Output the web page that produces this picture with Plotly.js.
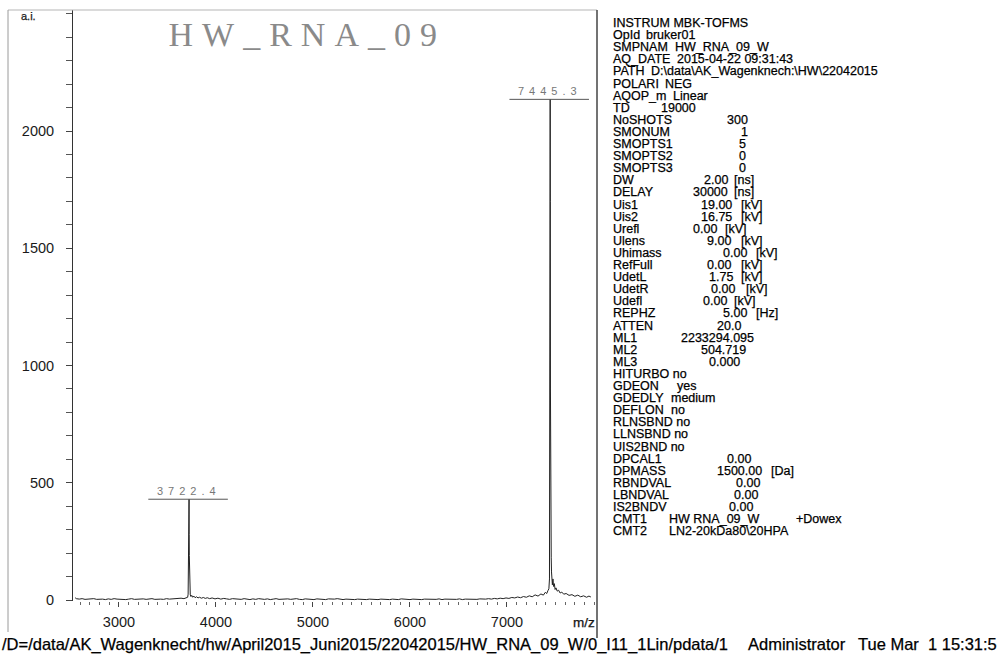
<!DOCTYPE html>
<html>
<head>
<meta charset="utf-8">
<script src="https://cdn.plot.ly/plotly-3.0.1.min.js"></script>
<style>
  html, body { margin: 0; padding: 0; background: #fff; }
  #chart { width: 997px; height: 655px; }
</style>
</head>
<body>
<div id="chart"></div>
<script>
// ---- spectrum (m/z vs intensity, a.i.) ----
const mz = [
  2548, 2560, 2590, 2620, 2650, 2680, 2710, 2740, 2770, 2800, 2830, 2860, 2890, 2920, 2950, 2980,
  3010, 3040, 3070, 3100, 3130, 3160, 3190, 3220, 3250, 3280, 3310, 3340, 3370, 3400, 3430, 3460,
  3490, 3520, 3550, 3580, 3610, 3640, 3670, 3695, 3708, 3713, 3716, 3718, 3720, 3721.3, 3722.4,
  3723.6, 3725, 3727, 3730, 3735, 3742, 3750, 3760, 3772, 3785, 3800, 3815, 3830, 3850, 3870, 3890,
  3910, 3935, 3960, 3990, 4020, 4050, 4080, 4110, 4140, 4170, 4200, 4230, 4260, 4290, 4320, 4350,
  4380, 4410, 4440, 4470, 4500, 4530, 4560, 4590, 4620, 4650, 4680, 4710, 4740, 4770, 4800, 4830,
  4860, 4890, 4920, 4950, 4980, 5010, 5040, 5070, 5100, 5130, 5160, 5190, 5220, 5250, 5280, 5310,
  5340, 5370, 5400, 5430, 5460, 5490, 5520, 5550, 5580, 5610, 5640, 5670, 5700, 5730, 5760, 5790,
  5820, 5850, 5880, 5910, 5940, 5970, 6000, 6030, 6060, 6090, 6120, 6150, 6180, 6210, 6240, 6270,
  6300, 6330, 6360, 6390, 6420, 6450, 6480, 6510, 6540, 6570, 6600, 6630, 6660, 6690, 6720, 6750,
  6780, 6810, 6840, 6870, 6900, 6930, 6960, 6990, 7020, 7050, 7080, 7110, 7140, 7170, 7200, 7230,
  7260, 7290, 7320, 7350, 7375, 7395, 7410, 7422, 7432, 7438, 7441, 7443, 7444.3, 7445.3, 7446.5,
  7448, 7450, 7452, 7454, 7456, 7459, 7463, 7468, 7474, 7480, 7488, 7496, 7505, 7518, 7532, 7548,
  7565, 7585, 7610, 7640, 7670, 7700, 7730, 7760, 7790, 7820, 7845, 7865
];
const intensity = [
  10, 6, 4, 6, 3, 5, 4, 6, 3, 5, 4, 2, 5, 3, 6, 4,
  3, 5, 2, 4, 6, 3, 4, 2, 5, 3, 4, 6, 3, 5, 4, 3,
  6, 4, 5, 7, 5, 8, 6, 9, 12, 25, 110, 290, 350, 300, 430,
  280, 190, 90, 40, 22, 15, 20, 12, 17, 10, 14, 9, 12, 8, 11, 7,
  10, 6, 9, 5, 8, 4, 7, 5, 3, 6, 4, 5, 3, 6, 4, 2,
  5, 3, 6, 4, 3, 5, 2, 4, 6, 3, 4, 2, 5, 3, 4, 6,
  3, 2, 5, 3, 4, 2, 5, 3, 4, 2, 5, 3, 4, 6, 3, 2,
  4, 3, 5, 2, 4, 3, 5, 2, 4, 3, 5, 2, 4, 3, 5, 2,
  4, 3, 2, 5, 3, 4, 2, 4, 3, 5, 2, 4, 3, 2, 4, 3,
  5, 2, 4, 3, 2, 4, 3, 5, 2, 4, 3, 2, 4, 3, 5, 3,
  4, 6, 4, 7, 5, 8, 6, 9, 7, 11, 9, 13, 10, 15, 12, 18,
  14, 22, 17, 26, 21, 33, 28, 40, 48, 90, 600, 1500, 1900, 2135, 1700,
  900, 330, 255, 230, 180, 120, 85, 65, 90, 58, 70, 45, 52, 38, 42, 30,
  34, 25, 28, 20, 23, 16, 21, 14, 18, 12, 17, 13
];

// labelled peaks
const peakMz = [3722.4, 7445.3];

// axis ticks
const xTicks = [3000, 4000, 5000, 6000, 7000];
const yTicks = [0, 500, 1000, 1500, 2000];

// acquisition parameters printed beside the spectrum
const infoKeys = [
  'INSTRUM MBK-TOFMS', 'OpId', 'SMPNAM', 'AQ_DATE', 'PATH', 'POLARI', 'AQOP_m', 'TD',
  'NoSHOTS', 'SMONUM', 'SMOPTS1', 'SMOPTS2', 'SMOPTS3', 'DW', 'DELAY', 'Uis1', 'Uis2',
  'Urefl', 'Ulens', 'Uhimass', 'RefFull', 'UdetL', 'UdetR', 'Udefl', 'REPHZ', 'ATTEN',
  'ML1', 'ML2', 'ML3', 'HITURBO no', 'GDEON', 'GDEDLY', 'DEFLON', 'RLNSBND no',
  'LLNSBND no', 'UIS2BND no', 'DPCAL1', 'DPMASS', 'RBNDVAL', 'LBNDVAL', 'IS2BNDV',
  'CMT1', 'CMT2'
];
const infoValues = [
  '', 'bruker01', 'HW_RNA_09_W', '2015-04-22 09:31:43', 'D:\\data\\AK_Wagenknech:\\HW\\22042015',
  'NEG', 'Linear', '19000', '300', '1', '5', '0', '0', '2.00', '30000', '19.00', '16.75',
  '0.00', '9.00', '0.00', '0.00', '1.75', '0.00', '0.00', '5.00', '20.0',
  '2233294.095', '504.719', '0.000', '', 'yes', 'medium', 'no', '',
  '', '', '0.00', '1500.00', '0.00', '0.00', '0.00',
  'HW RNA_09_W', 'LN2-20kDa80\\20HPA'
];
const infoUnits = [
  '', '', '', '', '', '', '', '', '', '', '', '', '', '[ns]', '[ns]', '[kV]', '[kV]',
  '[kV]', '[kV]', '[kV]', '[kV]', '[kV]', '[kV]', '[kV]', '[Hz]', '',
  '', '', '', '', '', '', '', '', '', '', '', '[Da]', '', '', '',
  '+Dowex', ''
];

const footerPath = '/D=/data/AK_Wagenknecht/hw/April2015_Juni2015/22042015/HW_RNA_09_W/0_I11_1Lin/pdata/1';
const footerUser = 'Administrator';
const footerDate = 'Tue Mar  1 15:31:5';

// ---- page geometry (pixels) ----
const W = 997, H = 655;
const L = 73, R = 597, T = 10, B = 601;
const px = v => (v - L) / (R - L);
const py = v => (B - v) / (B - T);

// column positions of the parameter block
const keyX = 612, blockTop = 15, lineStep = 12.1;
const valueX = [
  0, 645, 674, 676, 650, 664, 672, 660, 726, 740, 738, 738, 738, 703, 692, 700, 700,
  692, 706, 722, 706, 708, 710, 702, 722, 716, 680, 700, 708, 0, 676, 670, 670, 0,
  0, 0, 726, 716, 735, 733, 728, 668, 668
];
const unitX = [
  0, 0, 0, 0, 0, 0, 0, 0, 0, 0, 0, 0, 0, 733, 733, 740, 740,
  724, 740, 755, 740, 740, 745, 733, 755, 0, 0, 0, 0, 0, 0, 0, 0, 0,
  0, 0, 0, 770, 0, 0, 0, 795, 0
];

const sans = 'Liberation Sans, Arial, sans-serif';
const annotations = [];
const addText = (text, x, y, font, extra) => annotations.push(Object.assign({
  text: text, xref: 'paper', yref: 'paper', x: px(x), y: py(y),
  xanchor: 'left', yanchor: 'middle', showarrow: false, font: font, borderpad: 0
}, extra || {}));

// the parameter block is one multi-line text; the value columns are placed after drawing
addText(infoKeys.join('<br>'), keyX, blockTop, { family: sans, size: 12.5, color: '#000' },
  { yanchor: 'top', align: 'left' });

const footFont = { family: sans, size: 16.5, color: '#000' };
addText(footerPath, 1, 644, footFont);
addText(footerUser, 747, 644, footFont);
addText(footerDate, 857, 644, footFont);

// axis captions
addText('a.i.', 20, 16, { family: sans, size: 11, color: '#333' });
addText('m/z', 572, 622, { family: sans, size: 13.5, color: '#222' });

// sample title
annotations.push({
  text: 'HW_RNA_09', xref: 'paper', yref: 'paper', x: px(307), y: py(34),
  xanchor: 'center', yanchor: 'middle', showarrow: false,
  font: { family: 'Liberation Serif, serif', size: 34, color: '#8a8a8a' }
});

// peak labels with underline bars
const shapes = [];
peakMz.forEach(p => {
  const h = intensity[mz.indexOf(p)];
  annotations.push({
    text: p.toFixed(1), x: p, y: h, xref: 'x', yref: 'y',
    xanchor: 'center', yanchor: 'bottom', yshift: 0, showarrow: false,
    font: { family: sans, size: 11, color: '#777' }
  });
  shapes.push({ type: 'line', xref: 'x', yref: 'y', x0: p - 420, x1: p + 400, y0: h, y1: h,
    line: { color: '#555', width: 1 } });
});

// printed page frame
const frame = (x0, y0, x1, y1, color, width) => shapes.push({
  type: 'line', xref: 'paper', yref: 'paper', x0: px(x0), y0: py(y0), x1: px(x1), y1: py(y1),
  line: { color: color, width: width }
});
frame(8, 10, 597, 10, '#b5b5b5', 1);
frame(8, 10, 8, 632, '#9a9a9a', 1);
frame(597, 10, 597, 638, '#444', 1.5);

const trace = {
  x: mz, y: intensity, type: 'scatter', mode: 'lines',
  line: { color: '#222', width: 1 }, hoverinfo: 'skip'
};

const tickFont = { family: sans, size: 14.5, color: '#1a1a1a' };
const layout = {
  width: W, height: H,
  margin: { l: L, r: W - R, t: T, b: H - B },
  paper_bgcolor: '#fff', plot_bgcolor: '#fff',
  showlegend: false,
  xaxis: {
    range: [2526, 7928], tickvals: xTicks, ticktext: xTicks.map(String),
    ticks: 'outside', ticklen: 5, tickcolor: '#444', tickwidth: 1,
    minor: { dtick: 100, tick0: 0, ticks: 'outside', ticklen: 3, tickcolor: '#666' },
    showline: false, showgrid: false, zeroline: false,
    tickfont: tickFont, ticklabelstandoff: 3
  },
  yaxis: {
    range: [-4, 2516], tickvals: yTicks, ticktext: yTicks.map(String),
    ticks: 'outside', ticklen: 6, tickcolor: '#444', tickwidth: 1,
    minor: { dtick: 100, tick0: 0, ticks: 'outside', ticklen: 6, tickcolor: '#555' },
    showline: true, linecolor: '#333', linewidth: 1,
    showgrid: false, zeroline: false,
    tickfont: tickFont, ticklabelstandoff: 9
  },
  annotations: annotations,
  shapes: shapes
};

Plotly.newPlot('chart', [trace], layout, { staticPlot: true }).then(gd => {
  const NS = 'http://www.w3.org/2000/svg';
  const labels = peakMz.map(p => p.toFixed(1));
  gd.querySelectorAll('.annotation-text').forEach(t => {
    const s = t.textContent;
    if (s === 'HW_RNA_09') { t.setAttribute('letter-spacing', '9px'); return; }
    if (labels.indexOf(s) >= 0) { t.setAttribute('letter-spacing', '5px'); return; }
    // heavier print for the parameter block and footer
    t.setAttribute('stroke', '#000');
    t.setAttribute('stroke-width', '0.25');
    if (s.indexOf('INSTRUM') !== 0) return;
    // tight line pitch (each line's dy counts from the first baseline)
    // and tabulated value / unit columns
    t.querySelectorAll('tspan.line').forEach((ln, i) => {
      const x0 = parseFloat(ln.getAttribute('x') || t.getAttribute('x') || '0');
      ln.setAttribute('dy', (i * lineStep) + 'px');
      const part = (str, pos) => {
        if (!str) return;
        const sp = document.createElementNS(NS, 'tspan');
        sp.setAttribute('x', x0 + (pos - keyX));
        sp.textContent = str;
        ln.appendChild(sp);
      };
      part(infoValues[i], valueX[i]);
      part(infoUnits[i], unitX[i]);
    });
  });
});
</script>
</body>
</html>
